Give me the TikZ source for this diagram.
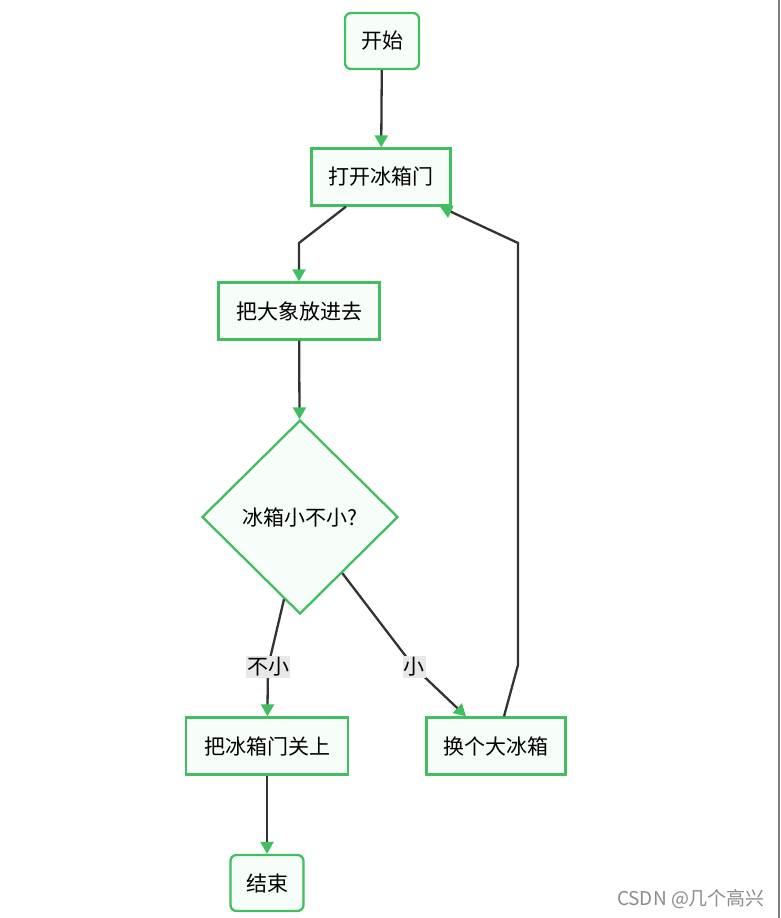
\documentclass[tikz,border=0pt]{standalone}
\usepackage{fontspec}
\setmainfont{Noto Sans CJK SC}
\usetikzlibrary{shapes.geometric,arrows.meta}

\definecolor{boxgreen}{RGB}{64,190,96}
\definecolor{boxfill}{RGB}{247,253,248}
\definecolor{linegray}{RGB}{51,51,51}
\definecolor{labelgray}{RGB}{232,232,232}

\tikzset{
  box/.style={draw=boxgreen,fill=boxfill,line width=2.3pt,minimum height=57pt,
    inner sep=0pt,text=black,font=\fontsize{21}{25}\selectfont},
  term/.style={box,rounded corners=6pt},
  decide/.style={box,diamond,aspect=1,minimum width=196pt,minimum height=194pt},
  flow/.style={draw=linegray,line width=2.3pt,
    -{Triangle[length=12pt,width=13pt,color=boxgreen]}},
  tag/.style={fill=labelgray,inner sep=1pt,text=black,font=\fontsize{21}{23}\selectfont}
}

\begin{document}
\begin{tikzpicture}[x=1pt,y=-1pt]
          \fill[white] (0,0) rectangle (780,918);
          \useasboundingbox (0,0) rectangle (780,918);

          % nodes
          \node[term,minimum width=74pt,minimum height=56pt] (start) at (382,41) {开始};
          \node[box,minimum width=139pt] (open) at (381,177) {打开冰箱门};
          \node[box,minimum width=161pt] (put) at (299,311) {把大象放进去};
          \node[decide] (ask) at (300,517) {冰箱小不小?};
          \node[box,minimum width=162pt] (close) at (267,746) {把冰箱门关上};
          \node[box,minimum width=139pt] (bigger) at (496,746) {换个大冰箱};
          \node[term,minimum width=73pt,minimum height=56pt] (stop) at (267,883) {结束};

          % bends
          \coordinate (b1) at (299,243);
          \coordinate (k1) at (268,667);
          \coordinate (k2) at (414,667);
          \coordinate (r1) at (518,665);
          \coordinate (r2) at (518,243);

          % connectors
          \draw[flow] (start) -- (open);
          \draw[flow] ([xshift=-35pt]open.south) -- (b1) -- (put);
          \draw[flow] (put) -- (ask);
          \draw[flow] (ask.259) -- (k1) node[tag] {不小} -- (close);
          \draw[flow] (ask.307) -- (k2) node[tag] {小} -- ([xshift=-30pt]bigger.north);
          \draw[flow] ([xshift=8pt]bigger.north) -- (r1) -- (r2) -- ([xshift=59pt]open.south);
          \draw[flow] (close) -- (stop);

          \node[text=black!45,font=\fontsize{19}{22}\selectfont] (mark) at (691,899) {CSDN @几个高兴};
          \draw[black!50,line width=1.5pt] (779,0) -- (779,918);
        \end{tikzpicture}
\end{document}
